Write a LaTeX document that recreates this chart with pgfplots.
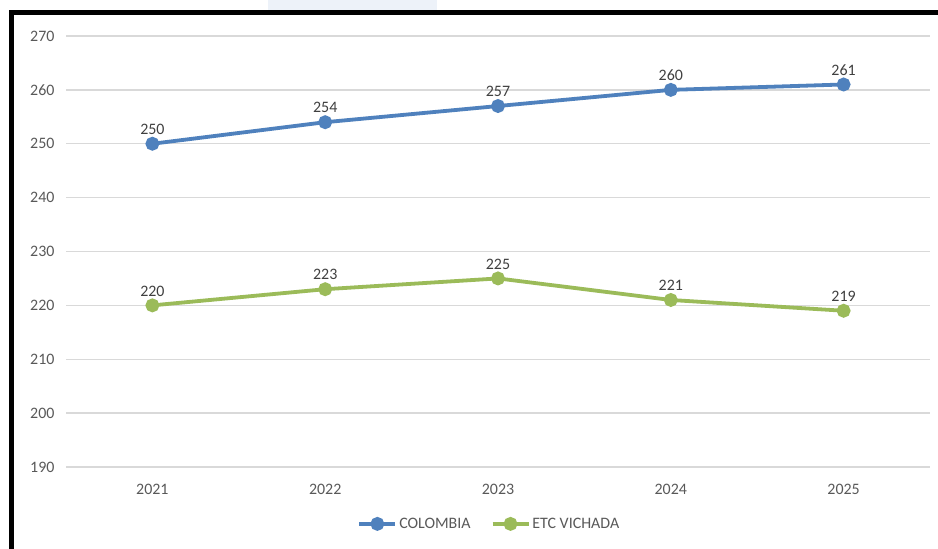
\documentclass[border=0pt]{standalone}
\usepackage{pgfplots}
\pgfplotsset{compat=1.18}
\usepackage{fontspec}
\setmainfont{Carlito}
\definecolor{cblue}{HTML}{4F81BD}
\definecolor{cgreen}{HTML}{9BBB59}
\definecolor{tickc}{HTML}{595959}
\definecolor{lblc}{HTML}{404040}
\definecolor{gridc}{HTML}{D9D9D9}
\definecolor{topblue}{HTML}{EDF2F9}
\newcommand{\chfont}{\fontsize{16}{19}\selectfont}
\begin{document}
\begin{tikzpicture}[x=1bp,y=1bp]
\path[use as bounding box, fill=white] (0,0) rectangle (938,549);
\fill[topblue] (268,539) rectangle (437,549);
\begin{axis}[
  at={(66bp,82bp)}, anchor=south west,
  width=864bp, height=431bp, scale only axis,
  xmin=-0.5, xmax=4.5, ymin=190, ymax=270,
  ytick={190,200,...,270},
  xtick={0,1,2,3,4},
  xticklabels={2021,2022,2023,2024,2025},
  axis line style={draw=none},
  tick style={draw=none},
  ymajorgrids,
  major grid style={gridc, line width=1.4bp},
  /pgf/number format/assume math mode=true,
  tick label style={font=\chfont, text=tickc},
  yticklabel style={xshift=-8bp},
  xticklabel style={yshift=-14bp},
  nodes near coords,
  every node near coord/.append style={font=\chfont, text=lblc, yshift=4bp},
  legend style={at={(0.49,-0.132)}, anchor=center, draw=none, fill=none,
    legend columns=2, font=\chfont, text=tickc,
    /tikz/every even column/.append style={column sep=18bp}},
  legend image code/.code={\draw[#1, mark repeat=2, mark phase=2] plot coordinates {(0bp,0bp) (18bp,0bp) (36bp,0bp)};},
  clip=false,
]
\addplot[cblue, line width=3.8bp, mark=*, mark size=5bp, mark options={fill=cblue, draw=none}]
  coordinates {(0,250) (1,254) (2,257) (3,260) (4,261)};
\addlegendentry{COLOMBIA}
\addplot[cgreen, line width=3.8bp, mark=*, mark size=5bp, mark options={fill=cgreen, draw=none}]
  coordinates {(0,220) (1,223) (2,225) (3,221) (4,219)};
\addlegendentry{ETC VICHADA}
\end{axis}
\draw[line width=5.5bp, black, line join=miter] (11.5,0) -- (11.5,536.3) -- (938,536.3);
\end{tikzpicture}
\end{document}
